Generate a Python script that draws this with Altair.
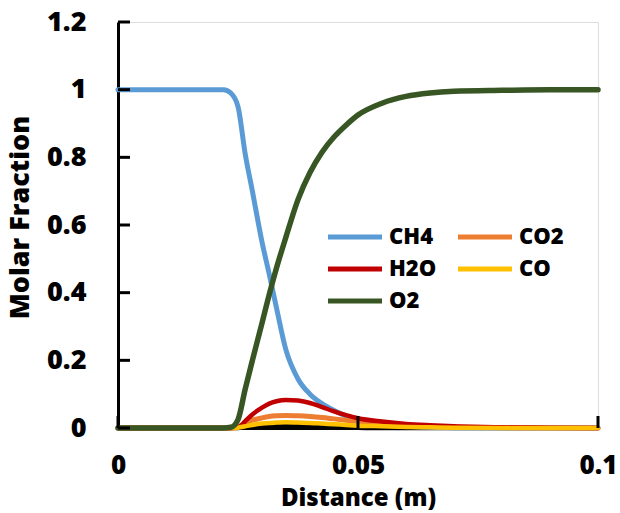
import altair as alt
import pandas as pd

# Distance (m)
distance = [0, 0.01, 0.02, 0.022, 0.0235, 0.025, 0.0265, 0.028, 0.03, 0.0315, 0.033, 0.035,
            0.0375, 0.04, 0.0425, 0.045, 0.0475, 0.05, 0.055, 0.06, 0.065, 0.07, 0.08, 0.09, 0.1]

ch4 = [1, 1, 1, 1, 0.99, 0.95, 0.81, 0.70, 0.55, 0.455, 0.356, 0.23,
       0.145, 0.10, 0.072, 0.052, 0.036, 0.024, 0.011, 0.005, 0.002, 0.001, 0, 0, 0]
o2 = [0, 0, 0, 0, 0.002, 0.025, 0.115, 0.2, 0.31, 0.394, 0.472, 0.565,
      0.675, 0.755, 0.815, 0.86, 0.895, 0.925, 0.96, 0.98, 0.99, 0.995, 0.998, 1, 1]
h2o = [0, 0, 0, 0, 0, 0.002, 0.02, 0.04, 0.06, 0.072, 0.079, 0.083,
       0.081, 0.074, 0.062, 0.049, 0.038, 0.029, 0.019, 0.012, 0.008, 0.005, 0.002, 0.001, 0]
co2 = [0, 0, 0, 0, 0, 0.003, 0.014, 0.023, 0.030, 0.034, 0.036, 0.037,
       0.036, 0.034, 0.031, 0.027, 0.023, 0.019, 0.013, 0.008, 0.005, 0.003, 0.001, 0, 0]
co = [0, 0, 0, 0, 0, 0.001, 0.005, 0.009, 0.013, 0.015, 0.016, 0.017,
      0.016, 0.015, 0.013, 0.011, 0.009, 0.007, 0.005, 0.003, 0.002, 0.001, 0, 0, 0]
other = [0, 0, 0, 0, 0, 0, 0.002, 0.004, 0.006, 0.007, 0.007, 0.007,
         0.006, 0.005, 0.004, 0.003, 0.002, 0.001, 0, 0, 0, 0, 0, 0, 0]

series_names = ["CH4", "CO2", "H2O", "CO", "O2"]
series_colors = ["#5B9BD5", "#ED7D31", "#C00000", "#FFC000", "#375623"]
series_values = {"CH4": ch4, "CO2": co2, "H2O": h2o, "CO": co, "O2": o2}

y_ticks = [0, 0.2, 0.4, 0.6, 0.8, 1.0, 1.2]
x_ticks = [0, 0.05, 0.1]

W, H = 480, 406
FONT = "Open Sans"
WT = 800

xscale = alt.Scale(domain=[0, 0.1], nice=False, zero=False)
yscale = alt.Scale(domain=[0, 1.2], nice=False)

xaxis = alt.Axis(values=x_ticks, title="Distance (m)", grid=False, ticks=False, tickSize=0,
                 labelPadding=24, labelFlush=False, domainColor="black", domainWidth=3,
                 labelFont=FONT, labelFontSize=26, labelFontWeight=WT, labelColor="black",
                 titleFont=FONT, titleFontSize=24, titleFontWeight=WT, titleColor="black",
                 titleX=240, titleY=70, titleBaseline="middle", titleAlign="center",
                 labelExpr="datum.value == 0 ? '0' : format(datum.value, '.2~f')")
yaxis = alt.Axis(values=y_ticks, title="Molar Fraction", grid=False, ticks=False, tickSize=0,
                 labelPadding=32, labelFlush=False, domainColor="black", domainWidth=3,
                 labelFont=FONT, labelFontSize=27, labelFontWeight=WT, labelColor="black",
                 titleFont=FONT, titleFontSize=27, titleFontWeight=WT, titleColor="black",
                 titleX=-98, titleY=195, titleBaseline="middle", titleAlign="center", titleAngle=270,
                 labelExpr="datum.value == 0 ? '0' : datum.value == 1 ? '1' : format(datum.value, '.1f')")

color_enc = alt.Color("series:N",
                      scale=alt.Scale(domain=series_names, range=series_colors),
                      legend=alt.Legend(title=None, orient="none", legendX=221, legendY=199,
                                        columns=2, direction="horizontal",
                                        symbolType="M-2,0H2", symbolSize=729, symbolStrokeWidth=5,
                                        labelFont=FONT, labelFontSize=22, labelFontWeight=WT,
                                        labelColor="black", labelOffset=18, rowPadding=5,
                                        columnPadding=11, padding=0))

layers = []
# unnamed black series (not in legend)
df_other = pd.DataFrame({"d": distance, "v": other})
layers.append(alt.Chart(df_other).mark_line(color="black", strokeWidth=4.5, interpolate="monotone").encode(
    x=alt.X("d:Q", scale=xscale, axis=xaxis), y=alt.Y("v:Q", scale=yscale, axis=yaxis)))

widths = {"CH4": 5, "CO2": 5, "H2O": 4.5, "CO": 4.5, "O2": 5.5}
for name in series_names:
    df = pd.DataFrame({"d": distance, "v": series_values[name], "series": name})
    layers.append(alt.Chart(df).mark_line(strokeWidth=widths[name], interpolate="monotone",
                                           strokeCap="round").encode(
        x=alt.X("d:Q", scale=xscale, axis=xaxis),
        y=alt.Y("v:Q", scale=yscale, axis=yaxis),
        color=color_enc))

# inside tick marks
ytick_df = pd.DataFrame({"v": y_ticks})
layers.append(alt.Chart(ytick_df).mark_rule(color="black", strokeWidth=3).encode(
    y=alt.Y("v:Q", scale=yscale, axis=yaxis), x=alt.value(0), x2=alt.value(12)))
xtick_df = pd.DataFrame({"d": x_ticks})
layers.append(alt.Chart(xtick_df).mark_rule(color="black", strokeWidth=3).encode(
    x=alt.X("d:Q", scale=xscale, axis=xaxis), y=alt.value(H), y2=alt.value(H - 12)))

chart = alt.layer(*layers).properties(
    width=W, height=H, autosize="none",
    padding={"left": 118, "top": 22, "right": 22, "bottom": 85},
).configure_view(stroke=None).configure(background="white")

chart.save("out.html", embed_options={"renderer": "svg", "actions": False})
